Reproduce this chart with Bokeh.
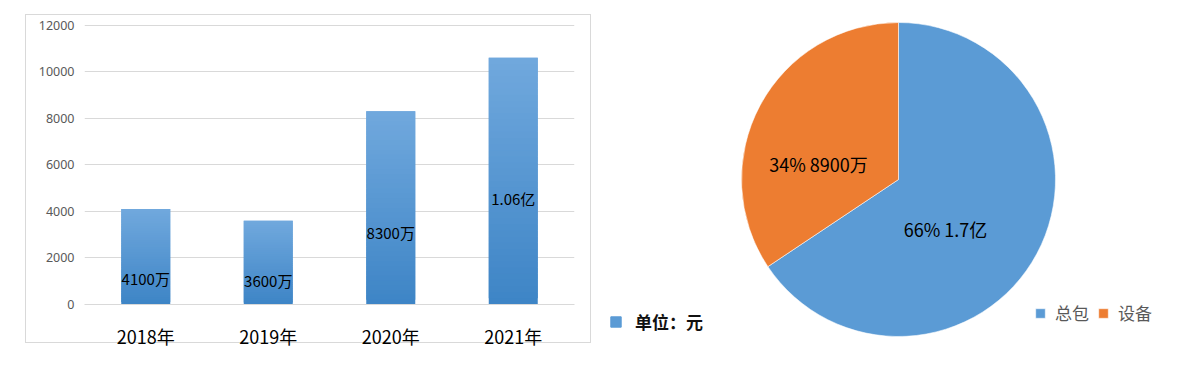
import math
from bokeh.plotting import figure
from bokeh.models import (FactorRange, Range1d, ColumnDataSource, Legend,
                          LegendItem, FixedTicker)
from bokeh.layouts import row
from bokeh.embed import file_html
from bokeh.resources import INLINE
from bokeh.core.properties import value

# ---------------- data ----------------
years = ["2018年", "2019年", "2020年", "2021年"]
amounts = [4100, 3600, 8300, 10600]
bar_labels = ["4100万", "3600万", "8300万", "1.06亿"]
label_y = [1110, 1030, 3090, 4540]
y_ticks = [0, 2000, 4000, 6000, 8000, 10000, 12000]

pie_names = ["总包", "设备"]
pie_values = [17000, 8900]
pie_labels = ["66% 1.7亿", "34% 8900万"]
pie_colors = ["#5b9bd5", "#ed7d31"]

CJK = "Noto Sans CJK SC"

# ---------------- bar chart ----------------
# thin grey box around the bar chart, painted as host background lines
line = "linear-gradient(#d9d9d9, #d9d9d9)"
box_styles = {
    "background-image": ", ".join([line] * 4),
    "background-size": "566px 1px, 566px 1px, 1px 329px, 1px 329px",
    "background-position": "25px 14px, 25px 342px, 25px 14px, 590px 14px",
    "background-repeat": "no-repeat",
}
p1 = figure(x_range=FactorRange(*years), y_range=Range1d(0, 12030),
            width=600, height=367, output_backend="svg", toolbar_location=None,
            min_border_left=84, min_border_right=26, min_border_top=24,
            min_border_bottom=63, styles=box_styles)
p1.frame_align = False
p1.outline_line_color = None
p1.background_fill_color = "white"
p1.border_fill_alpha = 0

# gradient bars: overlapping stacked slices, light on top, darker at bottom
n_seg = 40
top_rgb = (0x70, 0xa8, 0xdd)
bot_rgb = (0x3e, 0x85, 0xc6)
seg = dict(x=[], bottom=[], top=[], color=[])
for yr, v in zip(years, amounts):
    for i in range(n_seg):
        t = i / (n_seg - 1)
        c = tuple(round(b + (a - b) * t) for a, b in zip(top_rgb, bot_rgb))
        seg["x"].append(yr)
        seg["bottom"].append(v * i / n_seg)
        seg["top"].append(v * min(i + 2, n_seg) / n_seg)
        seg["color"].append("#%02x%02x%02x" % c)
p1.vbar(x="x", bottom="bottom", top="top", width=0.4, source=ColumnDataSource(seg),
        fill_color="color", line_color=None)

p1.text(x=years, y=label_y, text=bar_labels, text_align="center",
        text_baseline="middle", text_font=value(CJK), text_font_size="15px",
        text_color="#000000")

p1.xgrid.grid_line_color = None
p1.ygrid.grid_line_color = "#d9d9d9"
p1.ygrid.grid_line_width = 1
p1.yaxis.ticker = FixedTicker(ticks=y_ticks)
p1.yaxis.axis_line_color = None
p1.yaxis.major_tick_line_color = None
p1.yaxis.minor_tick_line_color = None
p1.yaxis.major_tick_out = 0
p1.yaxis.major_tick_in = 0
p1.yaxis.major_label_standoff = 10
p1.yaxis.major_label_text_font = "Noto Sans"
p1.yaxis.major_label_text_font_size = "12.5px"
p1.yaxis.major_label_text_color = "#595959"

p1.xaxis.axis_line_color = "#d9d9d9"
p1.xaxis.major_tick_line_color = None
p1.xaxis.major_tick_out = 0
p1.xaxis.major_tick_in = 0
p1.xaxis.major_label_standoff = 18
p1.xaxis.major_label_text_font = CJK
p1.xaxis.major_label_text_font_size = "18px"
p1.xaxis.major_label_text_color = "#000000"

# ---------------- pie chart ----------------
p2 = figure(width=600, height=367, x_range=Range1d(0, 600), y_range=Range1d(0, 367),
            output_backend="svg", toolbar_location=None,
            x_axis_location=None, y_axis_location=None,
            min_border=0)
p2.frame_align = False
p2.outline_line_color = None
p2.grid.grid_line_color = None

cx, cy, r = 298, 188, 157
total = sum(pie_values)
cum = 0.0
renderers = []
for name, v, col in zip(pie_names, pie_values, pie_colors):
    frac = v / total
    a0 = math.pi / 2 - cum * 2 * math.pi
    a1 = math.pi / 2 - (cum + frac) * 2 * math.pi
    cum += frac
    rr = p2.wedge(x=cx, y=cy, radius=r, start_angle=a1, end_angle=a0,
                  fill_color=col, line_color="#ffffff", line_width=0.8, line_alpha=0.7)
    renderers.append(rr)

pie_label_x = [345, 218]
pie_label_y = [139, 204]
p2.text(x=pie_label_x, y=pie_label_y, text=pie_labels, text_align="center",
        text_baseline="middle", text_font=value(CJK), text_font_size="18px",
        text_color="#000000")

leg = Legend(items=[LegendItem(label=n, renderers=[rr]) for n, rr in zip(pie_names, renderers)],
             orientation="horizontal", location=(434, 42),
             glyph_width=12, glyph_height=12, label_standoff=9, spacing=8,
             padding=0, margin=0, border_line_color=None, background_fill_alpha=0,
             label_text_font=CJK, label_text_font_size="17px",
             label_text_color="#595959")
p2.add_layout(leg)

nan = float("nan")
unit_r = p2.quad(left=[nan], right=[nan], top=[nan], bottom=[nan],
                 fill_color="#5b9bd5", line_color="#5b9bd5")
leg2 = Legend(items=[LegendItem(label="单位：元", renderers=[unit_r])],
              location=(9, 33), glyph_width=13, glyph_height=13, label_standoff=13,
              padding=0, margin=0, border_line_color=None, background_fill_alpha=0,
              label_text_font=CJK, label_text_font_size="17px",
              label_text_font_style="bold", label_text_color="#111111")
p2.add_layout(leg2)

layout = row(p1, p2)
open("out.html", "w").write(file_html(layout, INLINE))
